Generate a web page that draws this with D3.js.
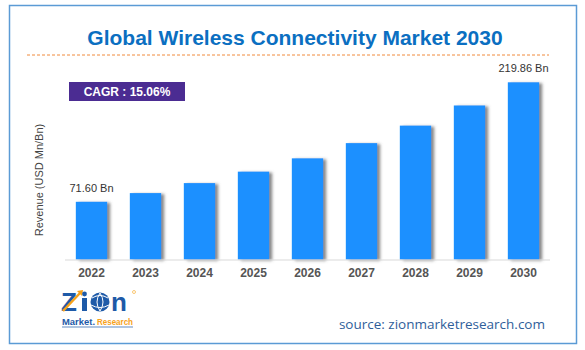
<!DOCTYPE html>
<html>
<head>
<meta charset="utf-8">
<script src="https://cdn.jsdelivr.net/npm/d3@7"></script>
<style>
  body { margin: 0; background: #fff; }
  svg { display: block; }
</style>
</head>
<body>
<div id="chart"></div>
<script>
const years = ["2022", "2023", "2024", "2025", "2026", "2027", "2028", "2029", "2030"];
const revenue = [71.60, 82.4, 94.8, 109.0, 125.5, 144.4, 166.1, 191.1, 219.86];
const valueLabels = ["71.60 Bn", "", "", "", "", "", "", "", "219.86 Bn"];
const cagrText = "CAGR : 15.06%";

const W = 585, H = 350;
const svg = d3.select("#chart").append("svg")
    .attr("width", W)
    .attr("height", H);

// outer frame
svg.append("rect")
    .attr("x", 9.5).attr("y", 5.5)
    .attr("width", 567).attr("height", 338)
    .attr("fill", "#fff")
    .attr("stroke", "#5B9BD5")
    .attr("stroke-width", 1.5);

// title + dashed rule
svg.append("text")
    .attr("x", 295).attr("y", 45)
    .attr("text-anchor", "middle")
    .style("font-family", "Liberation Sans, Arial, sans-serif")
    .style("font-size", "21px")
    .style("font-weight", "bold")
    .attr("fill", "#0B6FC1")
    .text("Global Wireless Connectivity Market 2030");

svg.append("line")
    .attr("x1", 27).attr("x2", 549)
    .attr("y1", 55).attr("y2", 55)
    .attr("stroke", "#F08A3C")
    .attr("stroke-width", 1)
    .attr("stroke-dasharray", "3,2");

// shadow for bars
const defs = svg.append("defs");
defs.append("filter")
    .attr("id", "shadow")
    .attr("x", "-20%").attr("y", "-10%")
    .attr("width", "150%").attr("height", "130%")
    .append("feDropShadow")
    .attr("dx", 3).attr("dy", 1)
    .attr("stdDeviation", 1.6)
    .attr("flood-color", "#555")
    .attr("flood-opacity", 0.7);

const baseY = 259.5;
const x = d3.scaleBand()
    .domain(years)
    .range([64.5, 550.5])
    .paddingInner(0.42)
    .paddingOuter(0.21);

const y = d3.scaleLinear()
    .domain([0, 219.86])
    .range([baseY, 82.3]);

// bars
svg.selectAll("rect.bar")
    .data(years)
    .enter()
    .append("rect")
    .attr("class", "bar")
    .attr("x", d => x(d))
    .attr("y", (d, i) => y(revenue[i]))
    .attr("width", x.bandwidth())
    .attr("height", (d, i) => baseY - y(revenue[i]))
    .attr("fill", "#1E90FF")
    .attr("filter", "url(#shadow)");

// baseline
svg.append("line")
    .attr("x1", 65).attr("x2", 550)
    .attr("y1", baseY + 0.5).attr("y2", baseY + 0.5)
    .attr("stroke", "#D9D9D9")
    .attr("stroke-width", 1);

// x axis labels
const xAxis = svg.append("g")
    .attr("transform", "translate(0," + (baseY + 1) + ")")
    .call(d3.axisBottom(x).tickSize(0).tickPadding(8));
xAxis.select(".domain").remove();
xAxis.selectAll("text")
    .style("font-family", "Liberation Sans, Arial, sans-serif")
    .style("font-size", "12px")
    .style("font-weight", "bold")
    .attr("fill", "#555");

// value labels
svg.selectAll("text.val")
    .data(years)
    .enter()
    .append("text")
    .attr("class", "val")
    .attr("x", d => x(d) + x.bandwidth() / 2)
    .attr("y", (d, i) => y(revenue[i]) - 10)
    .attr("text-anchor", "middle")
    .style("font-family", "Liberation Sans, Arial, sans-serif")
    .style("font-size", "11px")
    .attr("fill", "#333")
    .text((d, i) => valueLabels[i]);

// y axis title
svg.append("text")
    .attr("transform", "translate(43,180) rotate(-90)")
    .attr("text-anchor", "middle")
    .style("font-family", "Liberation Sans, Arial, sans-serif")
    .style("font-size", "11px")
    .attr("fill", "#444")
    .text("Revenue (USD Mn/Bn)");

// CAGR box
svg.append("rect")
    .attr("x", 69).attr("y", 82)
    .attr("width", 116).attr("height", 19)
    .attr("fill", "#4B2C92");
svg.append("text")
    .attr("x", 127).attr("y", 96)
    .attr("text-anchor", "middle")
    .style("font-family", "Liberation Sans, Arial, sans-serif")
    .style("font-size", "12px")
    .style("font-weight", "bold")
    .attr("fill", "#fff")
    .text(cagrText);

// logo
const logo = svg.append("g").attr("transform", "translate(62,292)");
const logoBlue = "#1E5AA8", logoOrange = "#F7A21B";
logo.append("text")
    .attr("x", -1).attr("y", 19)
    .style("font-family", "Liberation Sans, Arial, sans-serif")
    .style("font-size", "26px")
    .style("font-weight", "bold")
    .attr("fill", logoBlue)
    .text("Z");
logo.append("path")
    .attr("d", "M1,19 L19,0")
    .attr("stroke", logoOrange)
    .attr("stroke-width", 2.5);
logo.append("path")
    .attr("d", "M15,-1 L21,-2 L20,4 Z")
    .attr("fill", logoOrange);
// i
logo.append("rect")
    .attr("x", 20).attr("y", 6)
    .attr("width", 5).attr("height", 13)
    .attr("fill", logoBlue);
logo.append("circle")
    .attr("cx", 22.5).attr("cy", 2).attr("r", 2.4)
    .attr("fill", logoBlue);
// globe as "o"
logo.append("circle")
    .attr("cx", 38).attr("cy", 10).attr("r", 9.5)
    .attr("fill", logoBlue);
logo.append("path")
    .attr("d", "M30,6 Q38,1 46,6 M29,13 Q38,18 47,13 M38,1 Q32,10 38,19 M38,1 Q44,10 38,19")
    .attr("fill", "none")
    .attr("stroke", "#fff")
    .attr("stroke-width", 1);
logo.append("text")
    .attr("x", 49).attr("y", 19)
    .style("font-family", "Liberation Sans, Arial, sans-serif")
    .style("font-size", "26px")
    .style("font-weight", "bold")
    .attr("fill", logoBlue)
    .text("n");
logo.append("circle")
    .attr("cx", 72).attr("cy", 0).attr("r", 1.5)
    .attr("fill", "none")
    .attr("stroke", logoOrange)
    .attr("stroke-width", 0.6);
logo.append("text")
    .attr("x", 0).attr("y", 33)
    .attr("textLength", 33)
    .attr("lengthAdjust", "spacingAndGlyphs")
    .style("font-family", "Liberation Sans, Arial, sans-serif")
    .style("font-size", "8.5px")
    .style("font-weight", "bold")
    .attr("fill", logoBlue)
    .text("Market.");
logo.append("text")
    .attr("x", 35).attr("y", 33)
    .attr("textLength", 36)
    .attr("lengthAdjust", "spacingAndGlyphs")
    .style("font-family", "Liberation Sans, Arial, sans-serif")
    .style("font-size", "8.5px")
    .style("font-weight", "bold")
    .attr("fill", logoOrange)
    .text("Research");
logo.append("line")
    .attr("x1", 0).attr("x2", 71)
    .attr("y1", 35).attr("y2", 35)
    .attr("stroke", logoBlue)
    .attr("stroke-width", 0.7);

// source
svg.append("text")
    .attr("x", 545).attr("y", 329)
    .attr("text-anchor", "end")
    .style("font-family", "Open Sans, sans-serif")
    .style("font-size", "13.5px")
    .attr("fill", "#2F5E9A")
    .text("source: zionmarketresearch.com");
</script>
</body>
</html>
